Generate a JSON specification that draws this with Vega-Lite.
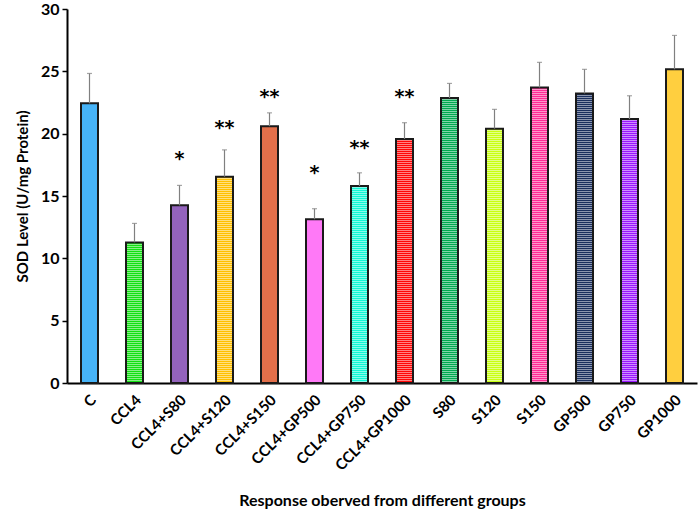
{
  "$schema": "https://vega.github.io/schema/vega-lite/v6.json",
  "width": 630,
  "height": 374,
  "padding": {"left": 67, "top": 9, "right": 3, "bottom": 132},
  "autosize": {"type": "none"},
  "background": "white",
  "config": {"view": {"stroke": null}, "font": "Lato"},
  "data": {"values": [
    {"group": "C", "sod": 22.43, "err": 24.83, "color": "#0A9BF5", "sig": "", "sig_y": null},
    {"group": "CCL4", "sod": 11.28, "err": 12.8, "color": "#12E012", "sig": "", "sig_y": null},
    {"group": "CCL4+S80", "sod": 14.25, "err": 15.85, "color": "#7030A6", "sig": "*", "sig_y": 18.3},
    {"group": "CCL4+S120", "sod": 16.55, "err": 18.7, "color": "#FFC000", "sig": "**", "sig_y": 20.8},
    {"group": "CCL4+S150", "sod": 20.6, "err": 21.67, "color": "#D9400F", "sig": "**", "sig_y": 23.25},
    {"group": "CCL4+GP500", "sod": 13.13, "err": 13.98, "color": "#FF4DF5", "sig": "*", "sig_y": 17.2},
    {"group": "CCL4+GP750", "sod": 15.8, "err": 16.86, "color": "#12F5D5", "sig": "**", "sig_y": 19.2},
    {"group": "CCL4+GP1000", "sod": 19.57, "err": 20.88, "color": "#FF0808", "sig": "**", "sig_y": 23.25},
    {"group": "S80", "sod": 22.86, "err": 24.03, "color": "#00A850", "sig": "", "sig_y": null},
    {"group": "S120", "sod": 20.4, "err": 21.95, "color": "#C8FF12", "sig": "", "sig_y": null},
    {"group": "S150", "sod": 23.71, "err": 25.72, "color": "#FF2D95", "sig": "", "sig_y": null},
    {"group": "GP500", "sod": 23.23, "err": 25.16, "color": "#1A2F5E", "sig": "", "sig_y": null},
    {"group": "GP750", "sod": 21.17, "err": 23.04, "color": "#9A18FF", "sig": "", "sig_y": null},
    {"group": "GP1000", "sod": 25.16, "err": 27.88, "color": "#FFC000", "sig": "", "sig_y": null}
  ]},
  "encoding": {
    "x": {
      "field": "group", "type": "nominal", "sort": null,
      "scale": {"paddingInner": 0.6, "paddingOuter": 0.3},
      "axis": {
        "title": "Response oberved from different groups",
        "titleFont": "Lato", "titleFontSize": 16, "titleFontWeight": "bold", "titleColor": "#000",
        "titlePadding": 19,
        "labelAngle": -45, "labelAlign": "right", "labelBaseline": "middle",
        "labelFont": "Lato", "labelFontSize": 15, "labelFontWeight": "bold", "labelColor": "#000",
        "labelPadding": 14, "labelOffset": 4,
        "ticks": false, "domainColor": "#000", "domainWidth": 2
      }
    }
  },
  "layer": [
    {
      "mark": {"type": "rule", "strokeWidth": 16, "strokeDash": [1.5, 0.5], "strokeCap": "butt"},
      "encoding": {
        "y": {
          "field": "sod", "type": "quantitative",
          "scale": {"domain": [0, 30], "nice": false},
          "axis": {
            "title": "SOD Level (U/mg Protein)",
            "titleFont": "Lato", "titleFontSize": 15, "titleFontWeight": "bold", "titleColor": "#000",
            "titlePadding": 10,
            "values": [0, 5, 10, 15, 20, 25, 30],
            "grid": false,
            "labelFont": "Lato", "labelFontSize": 16, "labelFontWeight": "bold", "labelColor": "#000",
            "labelPadding": 3,
            "tickColor": "#000", "tickWidth": 1.5, "tickSize": 5,
            "domainColor": "#000", "domainWidth": 2
          }
        },
        "y2": {"datum": 0},
        "color": {"field": "color", "type": "nominal", "scale": null}
      }
    },
    {
      "mark": {"type": "bar", "fillOpacity": 0, "stroke": "#1a1a1a", "strokeWidth": 2, "width": 17},
      "encoding": {
        "y": {"field": "sod", "type": "quantitative"}
      }
    },
    {
      "mark": {"type": "rule", "color": "#808080", "strokeWidth": 1.2},
      "encoding": {
        "y": {"field": "sod", "type": "quantitative"},
        "y2": {"field": "err"}
      }
    },
    {
      "mark": {"type": "tick", "color": "#808080", "thickness": 1.2, "size": 5},
      "encoding": {
        "y": {"field": "err", "type": "quantitative"}
      }
    },
    {
      "mark": {"type": "text", "font": "DejaVu Sans", "fontSize": 19, "fontWeight": "bold", "baseline": "middle", "dy": 4, "color": "#000"},
      "encoding": {
        "y": {"field": "sig_y", "type": "quantitative"},
        "text": {"field": "sig"}
      }
    }
  ]
}
